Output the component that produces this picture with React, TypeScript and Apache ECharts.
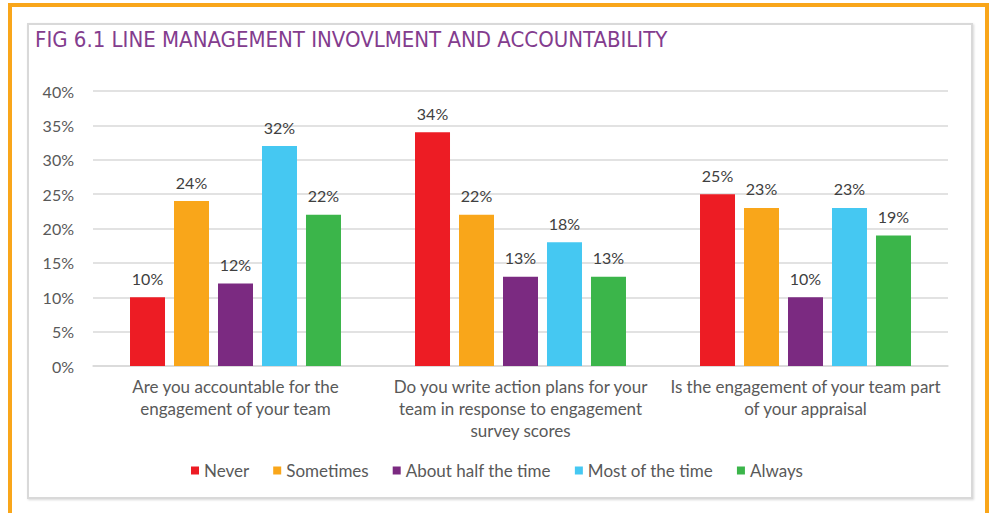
import React, { useEffect, useRef } from "react";
import * as echarts from "echarts";

const categories = [
  "Are you accountable for the\nengagement of your team",
  "Do you write action plans for your\nteam in response to engagement\nsurvey scores",
  "Is the engagement of your team part\nof your appraisal",
];
const seriesNames = ["Never", "Sometimes", "About half the time", "Most of the time", "Always"];
const neverVals = [10, 34, 25];
const sometimesVals = [24, 22, 23];
const halfVals = [12, 13, 10];
const mostVals = [32, 18, 23];
const alwaysVals = [22, 13, 19];
const colors = ["#ED1C24", "#F9A61A", "#7B2A81", "#45C8F2", "#3BB54A"];
const title = "FIG 6.1 LINE MANAGEMENT INVOVLMENT AND ACCOUNTABILITY";

const FONT = "Lato, 'Open Sans', sans-serif";

export default function App() {
  const ref = useRef<HTMLDivElement>(null);
  useEffect(() => {
    document.body.style.margin = "0";
    const chart = echarts.init(ref.current!, null, { renderer: "svg" });
    const allVals = [neverVals, sometimesVals, halfVals, mostVals, alwaysVals];
    chart.setOption({
      animation: false,
      backgroundColor: "#ffffff",
      textStyle: { fontFamily: FONT },
      graphic: [
        {
          type: "rect",
          shape: { x: 28, y: 24, width: 944, height: 474 },
          style: { fill: "#ffffff", stroke: "#D9D9D9", lineWidth: 2, shadowBlur: 2, shadowColor: "rgba(0,0,0,0.15)", shadowOffsetX: 1, shadowOffsetY: 1 },
          z: -10,
        },
        {
          type: "polyline",
          shape: { points: [[10, 513], [10, 5], [987, 5], [987, 513]] },
          style: { stroke: "#F9A61A", lineWidth: 4, fill: null },
          z: -5,
        },
        {
          type: "text",
          left: 35,
          top: 28,
          style: {
            text: title,
            fill: "#833C8E",
            font: "22px 'Liberation Sans Narrow', 'DejaVu Sans Condensed', sans-serif",
          },
        },
      ],
      legend: {
        left: 186,
        top: 457,
        icon: "rect",
        itemWidth: 8,
        itemHeight: 8,
        itemGap: 24,
        textStyle: { fontSize: 17, color: "#595959", fontFamily: FONT },
        data: seriesNames,
      },
      grid: { left: 93, right: 41, top: 91, bottom: 147 },
      xAxis: {
        type: "category",
        data: categories,
        axisLine: { lineStyle: { color: "#D9D9D9", width: 1.5 } },
        axisTick: { show: false },
        axisLabel: { interval: 0, color: "#595959", fontSize: 17, lineHeight: 22, margin: 9, fontFamily: FONT },
      },
      yAxis: {
        type: "value",
        min: 0,
        max: 40,
        interval: 5,
        axisLabel: { formatter: "{value}%", color: "#595959", fontSize: 16, margin: 19, fontFamily: FONT },
        splitLine: { lineStyle: { color: "#D9D9D9", width: 1.5 } },
        axisLine: { show: false },
        axisTick: { show: false },
      },
      series: seriesNames.map((name, i) => ({
        name,
        type: "bar",
        data: allVals[i],
        barWidth: 35,
        barGap: "25.7%",
        itemStyle: { color: colors[i] },
        label: {
          show: true,
          position: "top",
          distance: 11,
          formatter: "{c}%",
          color: "#404040",
          fontSize: 16,
          fontFamily: FONT,
        },
      })),
    });
    return () => chart.dispose();
  }, []);
  return <div ref={ref} style={{ position: "fixed", left: 0, top: 0, width: 989, height: 513 }} />;
}
